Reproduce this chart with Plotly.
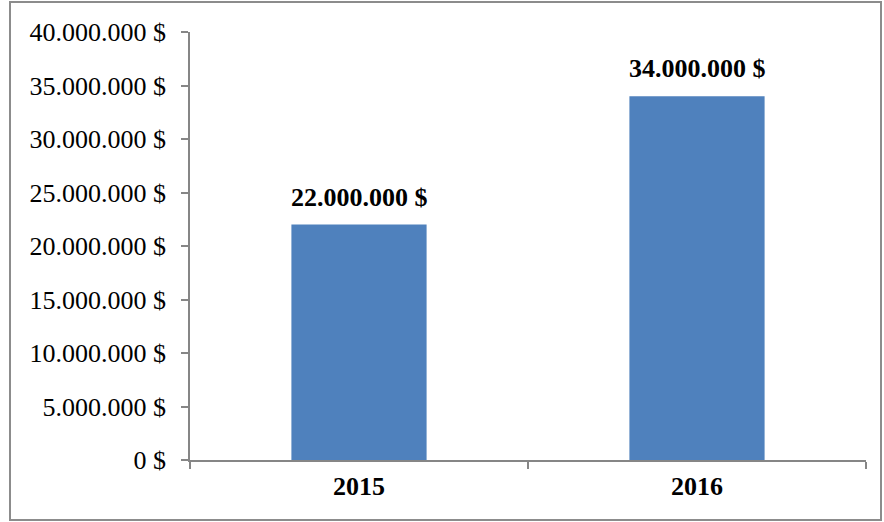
import plotly.graph_objects as go

years = ["2015", "2016"]
values = [22000000, 34000000]
y_ticks = [0, 5000000, 10000000, 15000000, 20000000, 25000000, 30000000, 35000000, 40000000]


def fmt(v):
    return f"{v:,.0f}".replace(",", ".") + " $"


y_tick_labels = [fmt(v) for v in y_ticks]

W, H = 884, 522
L, R, T, B = 190, 18, 32, 62
pw, ph = W - L - R, H - T - B

fig = go.Figure(go.Bar(
    x=years, y=values,
    marker=dict(color="#4F81BD", line=dict(width=0)),
    hoverinfo="skip",
))

annotations = [
    dict(x=i, y=v, xref="x", yref="y", text=f"<b>{fmt(v)}</b>",
         showarrow=False, yanchor="bottom", yshift=11,
         font=dict(family="Liberation Serif", size=26, color="black"))
    for i, v in enumerate(values)
]


def px_x(p):
    return (p - L) / pw


def px_y(p):
    return (H - B - p) / ph


fig.update_layout(
    width=W, height=H,
    margin=dict(l=L, r=R, t=T, b=B, autoexpand=False),
    paper_bgcolor="white", plot_bgcolor="white",
    bargap=0.6,
    showlegend=False,
    font=dict(family="Liberation Serif", color="black"),
    annotations=annotations,
    xaxis=dict(
        type="category",
        range=[-0.5, 1.5],
        tickprefix="<b>", ticksuffix="</b>",
        showline=True, linecolor="#868686", linewidth=1.5,
        ticks="outside", tickson="boundaries", ticklen=7, tickcolor="#868686", tickwidth=1.5,
        ticklabelstandoff=2,
        tickfont=dict(family="Liberation Serif", size=26, color="black"),
        tickangle=0,
        showgrid=False,
    ),
    yaxis=dict(
        range=[0, 40000000],
        tickvals=y_ticks, ticktext=y_tick_labels,
        showline=True, linecolor="#868686", linewidth=1.5,
        ticks="outside", ticklen=7, tickcolor="#868686", tickwidth=1.5,
        ticklabelstandoff=10,
        tickfont=dict(family="Liberation Serif", size=26, color="black"),
        showgrid=False, zeroline=False,
    ),
    shapes=[dict(
        type="rect", xref="paper", yref="paper",
        x0=px_x(10), x1=px_x(881), y0=px_y(520), y1=px_y(2),
        line=dict(color="#8c8c8c", width=2), fillcolor="rgba(0,0,0,0)", layer="below",
    )],
)

fig.write_html(
    "out.html",
    config={"displayModeBar": False},
    post_script="document.body.style.margin='0';document.body.style.padding='0';",
)
